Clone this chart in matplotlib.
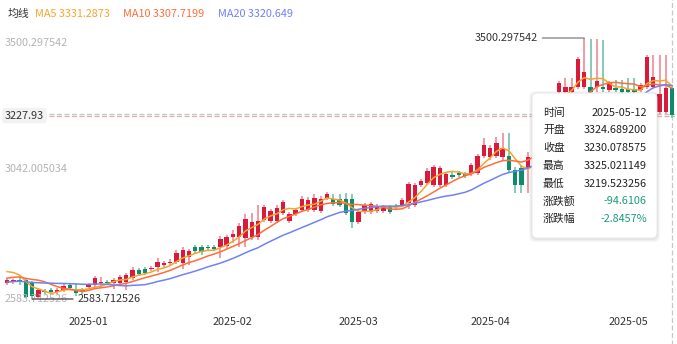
import numpy as np
import pandas as pd
import matplotlib
matplotlib.use("Agg")
import matplotlib.pyplot as plt
import matplotlib.transforms as mtransforms
from matplotlib.patches import FancyBboxPatch

plt.rcParams['font.family'] = ['Noto Sans CJK SC', 'DejaVu Sans']

W, H, DPI = 677, 344, 100

# weekday sessions shown on the category axis
dates = pd.bdate_range("2024-12-13", "2025-05-12")

open_ = [2639.9, 2643.4, 2650.4, 2650.4, 2639.9, 2590.7, 2611.8, 2615.3, 2608.3, 2615.3,
         2632.9, 2618.8, 2615.3, 2625.9, 2632.9, 2639.9, 2643.4, 2639.9, 2639.9, 2643.4,
         2657.5, 2685.6, 2689.1, 2689.1, 2696.1, 2703.1, 2710.1, 2713.7, 2710.1, 2731.2,
         2766.3, 2766.3, 2766.3, 2766.3, 2766.3, 2769.8, 2801.5, 2801.5, 2797.9, 2801.5,
         2801.5, 2861.2, 2857.6, 2857.6, 2885.7, 2857.6, 2882.2, 2896.3, 2896.3, 2896.3,
         2892.8, 2938.4, 2934.9, 2934.9, 2934.9, 2934.9, 2854.1, 2889.3, 2889.3, 2892.8,
         2892.8, 2906.8, 2910.3, 2913.8, 2920.9, 2913.8, 2984.1, 2991.1, 2984.1, 2984.1,
         2984.1, 3019.2, 3026.2, 3022.7, 3022.7, 3026.2, 3085.9, 3082.4, 3085.9, 3082.4,
         3085.9, 3036.8, 3043.8, 3043.8, 3036.8, 3177.2, 3240.5, 3265.0, 3310.7, 3310.7,
         3310.7, 3328.3, 3328.3, 3328.3, 3328.3, 3328.3, 3317.7, 3324.7, 3321.2, 3321.2,
         3321.2, 3317.7, 3328.3, 3328.3, 3240.5, 3240.5, 3324.6892]
close = [2650.4, 2650.4, 2646.9, 2590.7, 2594.2, 2615.3, 2608.3, 2608.3, 2615.3, 2629.4,
         2622.3, 2604.8, 2608.3, 2632.9, 2657.5, 2643.4, 2639.9, 2650.4, 2661.0, 2668.0,
         2685.6, 2671.5, 2675.0, 2692.6, 2713.7, 2710.1, 2713.7, 2745.3, 2755.8, 2752.3,
         2752.3, 2748.8, 2762.8, 2759.3, 2794.4, 2801.5, 2812.0, 2840.1, 2864.7, 2854.1,
         2857.6, 2906.8, 2892.8, 2903.3, 2924.4, 2882.2, 2896.3, 2934.9, 2931.4, 2938.4,
         2934.9, 2952.5, 2917.4, 2913.8, 2885.7, 2854.1, 2889.3, 2913.8, 2917.4, 2910.3,
         2906.8, 2889.3, 2906.8, 2931.4, 2987.6, 2984.1, 2998.1, 3033.2, 3047.3, 3043.8,
         3022.7, 3012.2, 3019.2, 3015.7, 3054.3, 3085.9, 3124.6, 3114.0, 3131.6, 3114.0,
         3036.8, 2984.1, 2984.1, 3082.4, 3177.2, 3240.5, 3282.6, 3300.2, 3342.3, 3328.3,
         3328.3, 3426.6, 3380.9, 3310.7, 3349.3, 3321.2, 3342.3, 3317.7, 3310.7, 3310.7,
         3310.7, 3335.3, 3433.6, 3363.4, 3303.7, 3324.6892, 3230.078575]
high = [2657.5, 2654.0, 2661.0, 2654.0, 2646.9, 2622.3, 2618.8, 2622.3, 2622.3, 2636.4,
        2639.9, 2639.9, 2622.3, 2639.9, 2664.5, 2661.0, 2650.4, 2657.5, 2668.0, 2675.0,
        2696.1, 2692.6, 2696.1, 2699.6, 2727.7, 2717.2, 2724.2, 2755.8, 2766.3, 2759.3,
        2773.4, 2773.4, 2773.4, 2773.4, 2805.0, 2808.5, 2826.0, 2850.6, 2882.2, 2885.7,
        2913.8, 2913.8, 2899.8, 2913.8, 2931.4, 2889.3, 2903.3, 2945.4, 2941.9, 2952.5,
        2945.4, 2959.5, 2952.5, 2952.5, 2956.0, 2952.5, 2896.3, 2920.9, 2924.4, 2917.4,
        2913.8, 2913.8, 2917.4, 2938.4, 2994.6, 2991.1, 3005.2, 3043.8, 3054.3, 3050.8,
        3029.7, 3029.7, 3033.2, 3029.7, 3061.3, 3093.0, 3149.1, 3124.6, 3152.7, 3166.7,
        3166.7, 3047.3, 3054.3, 3100.0, 3184.3, 3254.5, 3293.1, 3307.2, 3349.3, 3359.9,
        3359.9, 3433.6, 3500.297542, 3496.8, 3496.8, 3493.3, 3349.3, 3352.8, 3352.8, 3359.9,
        3359.9, 3342.3, 3440.6, 3440.6, 3440.6, 3440.6, 3325.021149]
low = [2632.9, 2636.4, 2632.9, 2587.2, 2583.712526, 2587.2, 2601.3, 2604.8, 2601.3, 2608.3,
       2615.3, 2594.2, 2601.3, 2618.8, 2625.9, 2622.3, 2632.9, 2618.8, 2632.9, 2615.3,
       2650.4, 2664.5, 2668.0, 2682.0, 2678.5, 2692.6, 2703.1, 2706.6, 2689.1, 2703.1,
       2745.3, 2738.2, 2755.8, 2752.3, 2727.7, 2759.3, 2780.4, 2766.3, 2766.3, 2790.9,
       2790.9, 2854.1, 2850.6, 2850.6, 2878.7, 2850.6, 2875.2, 2889.3, 2889.3, 2889.3,
       2885.7, 2931.4, 2910.3, 2906.8, 2878.7, 2833.1, 2847.1, 2882.2, 2882.2, 2885.7,
       2885.7, 2882.2, 2899.8, 2906.8, 2899.8, 2906.8, 2977.1, 2984.1, 2977.1, 2977.1,
       2977.1, 3005.2, 3012.2, 3008.7, 3015.7, 3019.2, 3078.9, 3071.9, 3078.9, 3071.9,
       3029.7, 2956.0, 2956.0, 2956.0, 3029.7, 3166.7, 3229.9, 3254.5, 3303.7, 3303.7,
       3303.7, 3321.2, 3321.2, 3303.7, 3310.7, 3310.7, 3310.7, 3310.7, 3303.7, 3303.7,
       3303.7, 3310.7, 3321.2, 3321.2, 3233.4, 3233.4, 3219.523256]

# closes of the 19 sessions before the first candle (only feed the moving averages)
prior_close = [2615, 2622, 2630, 2641, 2636, 2628, 2620, 2627, 2638, 2633,
               2625, 2630, 2641, 2632, 2642, 2668, 2690, 2702, 2690]

y_min, y_max = 2583.712526, 3500.297542
y_labels = ["3500.297542", "3042.005034", "2583.712526"]
month_labels = ["2025-01", "2025-02", "2025-03", "2025-04", "2025-05"]
cursor_price = 3227.93

ma_names = ["MA5", "MA10", "MA20"]
ma_windows = [5, 10, 20]
ma_legend_vals = ["3331.2873", "3307.7199", "3320.649"]
ma_colors = ["#F6A52C", "#FF6D3A", "#6F82F6"]

tip_keys = ["时间", "开盘", "收盘", "最高", "最低", "涨跌额", "涨跌幅"]
tip_vals = ["2025-05-12", "3324.689200", "3230.078575", "3325.021149",
            "3219.523256", "-94.6106", "-2.8457%"]

UP, DOWN = "#DA1A3B", "#0E8A6C"
UP_WICK, DOWN_WICK = "#F0939F", "#7FC5B2"

fig = plt.figure(figsize=(W / DPI, H / DPI), dpi=DPI)
# pixel coords, origin top-left
PX = mtransforms.Affine2D().scale(1 / W, -1 / H).translate(0, 1) + fig.transFigure

ax = fig.add_axes([3.9 / W, 1 - 299 / H, 671.3 / W, 261 / H])
o, c, hi, lo = map(np.array, (open_, close, high, low))
n = len(c)
x = np.arange(n)
up = c > o

ax.vlines(x[up], lo[up], hi[up], color=UP_WICK, lw=1.3, zorder=2)
ax.vlines(x[~up], lo[~up], hi[~up], color=DOWN_WICK, lw=1.3, zorder=2)
body = np.maximum(np.abs(c - o), 2.0)
bottom = np.minimum(o, c)
ax.bar(x[up], body[up], bottom=bottom[up], width=0.7, color=UP, lw=0, zorder=3)
ax.bar(x[~up], body[~up], bottom=bottom[~up], width=0.7, color=DOWN, lw=0, zorder=3)

all_close = pd.Series(prior_close + close)
for w, col in zip(ma_windows, ma_colors):
    ma = all_close.rolling(w).mean().iloc[len(prior_close):].values
    ax.plot(x, ma, color=col, lw=1.1, zorder=4)

ax.set_xlim(-0.5, n - 0.5)
ax.set_ylim(y_min, y_max)
ax.axis("off")

# price lines + cursor
ax.axhline(close[-1] + 2.5, color="#BCC6C2", lw=0.9, ls=(0, (4, 2)), zorder=1)
ax.axhline(cursor_price, color="#F3A3AD", lw=0.9, ls=(0, (4, 2)), zorder=1)
ax.axvline(n - 1, color="#C8C8C8", lw=0.9, ls=(0, (4, 2)), zorder=1, ymin=-0.2, ymax=1.2, clip_on=False)

# y labels inside the plot
ytr = ax.get_yaxis_transform()
for lab, v, va in zip(y_labels, [y_max, (y_max + y_min) / 2, y_min], ["top", "center", "center"]):
    ax.text(0.0016, v, lab, transform=ytr, ha="left", va=va, fontsize=7.8, color="#B4B4B4", zorder=5)
ax.text(0.0016, cursor_price, f"{cursor_price:.2f}", transform=ytr, ha="left", va="center",
        fontsize=7.8, color="#333333", zorder=6,
        bbox=dict(boxstyle="round,pad=0.25,rounding_size=0.3", fc="#F2F2F2", ec="none"))

# month labels
months = dates.strftime("%Y-%m")
for lab in month_labels:
    i = int(np.argmax(months == lab))
    ax.text(i, -0.09, lab, transform=ax.get_xaxis_transform(), ha="center", va="center",
            fontsize=7.8, color="#333333", clip_on=False)

# max / min markers
imax, imin = int(np.argmax(hi)), int(np.argmin(lo))
ax.annotate(f"{hi[imax]:.6f}", xy=(imax, hi[imax]), xytext=(-46, 0), textcoords="offset pixels",
            ha="right", va="center", fontsize=7.8, color="#333333", zorder=6,
            arrowprops=dict(arrowstyle="-", color="#8C8C8C", lw=1, shrinkA=1, shrinkB=0))
ax.annotate(f"{lo[imin]:.6f}", xy=(imin, lo[imin]), xytext=(45, 0), textcoords="offset pixels",
            ha="left", va="center", fontsize=7.8, color="#333333", zorder=6, annotation_clip=False,
            arrowprops=dict(arrowstyle="-", color="#555555", lw=1, shrinkA=1, shrinkB=0))

# legend row
fig.text(8, 14, "均线", transform=PX, ha="left", va="center", fontsize=7.8, color="#333333")
for name, val, col, lx in zip(ma_names, ma_legend_vals, ma_colors, [35, 123, 218]):
    fig.text(lx, 14, f"{name} {val}", transform=PX, ha="left", va="center", fontsize=7.8, color=col)

# tooltip
for k, a in enumerate([0.03, 0.03, 0.04]):
    pad = 3 - k
    fig.patches.append(FancyBboxPatch((532 - pad, 93 - pad + 1), 125 + 2 * pad, 145 + 2 * pad,
                                      boxstyle="round,pad=0,rounding_size=6", transform=PX,
                                      fc="black", ec="none", alpha=a, zorder=8))
fig.patches.append(FancyBboxPatch((532, 93), 125, 145, boxstyle="round,pad=0,rounding_size=5",
                                  transform=PX, fc="white", ec="#E6E6E6", lw=0.6, zorder=9))
for r, (k, v) in enumerate(zip(tip_keys, tip_vals)):
    yy = 112.5 + r * 17.8
    vcol = "#1A9B7D" if r >= 5 else "#222222"
    fig.text(543, yy, k, transform=PX, ha="left", va="center", fontsize=7.8, color="#222222", zorder=10)
    fig.text(647, yy, v, transform=PX, ha="right", va="center", fontsize=7.8, color=vcol, zorder=10)

fig.savefig("out.png", dpi=DPI)
